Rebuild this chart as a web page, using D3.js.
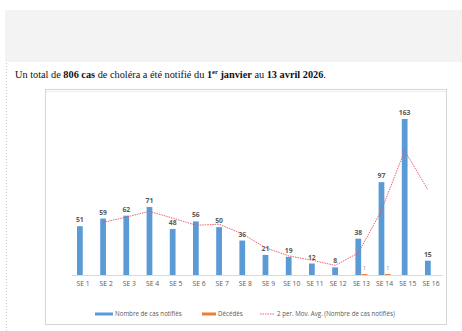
<!DOCTYPE html>
<html>
<head>
<meta charset="utf-8">
<script src="https://cdn.jsdelivr.net/npm/d3@7/dist/d3.min.js"></script>
<style>
  html, body { margin: 0; padding: 0; background: #fff; }
  svg { display: block; }
</style>
</head>
<body>
<div id="chart"></div>
<script>
// données hebdomadaires
const semaines = ["SE 1","SE 2","SE 3","SE 4","SE 5","SE 6","SE 7","SE 8","SE 9","SE 10","SE 11","SE 12","SE 13","SE 14","SE 15","SE 16"];
const casNotifies = [51, 59, 62, 71, 48, 56, 50, 36, 21, 19, 12, 8, 38, 97, 163, 15];
const deces = [0, 0, 0, 0, 0, 0, 0, 0, 0, 0, 0, 0, 1, 1, 0, 0];
const series = ["Nombre de cas notifiés", "Décédés"];
const legendeMoyenne = "2 per. Mov. Avg. (Nombre de cas notifiés)";

const W = 462, H = 331;
const svg = d3.select("#chart").append("svg").attr("width", W).attr("height", H);

// bandeau gris en haut
svg.append("rect").attr("x", 5).attr("y", 10).attr("width", W - 5).attr("height", 52).attr("fill", "#f3f3f3");

// bordure pointillée à gauche
svg.append("line").attr("x1", 6.5).attr("x2", 6.5).attr("y1", 63).attr("y2", H)
  .attr("stroke", "#c8c8c8").attr("stroke-dasharray", "1,2");

// phrase d'introduction
const intro = svg.append("text").attr("x", 15).attr("y", 77.5)
  .attr("font-family", "'Liberation Serif', 'DejaVu Serif', serif")
  .attr("font-size", 10.3).attr("fill", "#111");
intro.append("tspan").text("Un total de ");
intro.append("tspan").attr("font-weight", "bold").text("806 cas");
intro.append("tspan").text(" de choléra a été notifié du ");
intro.append("tspan").attr("font-weight", "bold").text("1");
intro.append("tspan").attr("font-weight", "bold").attr("font-size", 6.5).attr("dy", -3.5).text("er");
intro.append("tspan").attr("font-weight", "bold").attr("dy", 3.5).text(" janvier");
intro.append("tspan").text(" au ");
intro.append("tspan").attr("font-weight", "bold").text("13 avril 2026");
intro.append("tspan").text(".");

// cadre du graphique
svg.append("rect").attr("x", 45.5).attr("y", 89.5).attr("width", 401).attr("height", 235)
  .attr("fill", "#fff").attr("stroke", "#d6d6d6");
svg.append("line").attr("x1", 46).attr("x2", 446).attr("y1", 91.5).attr("y2", 91.5)
  .attr("stroke", "#eeeeee");

const x = d3.scaleBand().domain(semaines).range([71.4, 442.6]);
const x1 = d3.scaleBand().domain(series)
  .range([x.bandwidth() / 2 - 6, x.bandwidth() / 2 + 6]).paddingInner(0.08);
const y = d3.scaleLinear().domain([0, 180]).range([275, 275 - 180 * 0.957]);

const couleurs = { "Nombre de cas notifiés": "#5b9bd5", "Décédés": "#ed7d31" };
const font = "'Open Sans', 'Liberation Sans', sans-serif";

// axe horizontal
const xAxis = svg.append("g").attr("transform", "translate(0,275)")
  .call(d3.axisBottom(x).tickSize(0).tickPadding(6));
xAxis.select(".domain").attr("stroke", "#d9d9d9");
xAxis.selectAll("text").attr("font-family", font).attr("font-size", 6.8).attr("fill", "#595959");

// barres des cas
svg.append("g").selectAll("rect").data(casNotifies).join("rect")
  .attr("x", (d, i) => x(semaines[i]) + x1(series[0]))
  .attr("y", d => y(d))
  .attr("width", x1.bandwidth())
  .attr("height", d => y(0) - y(d))
  .attr("fill", couleurs[series[0]]);

// barres des décès
svg.append("g").selectAll("rect").data(deces).join("rect")
  .attr("x", (d, i) => x(semaines[i]) + x1(series[1]))
  .attr("y", d => y(d))
  .attr("width", x1.bandwidth())
  .attr("height", d => y(0) - y(d))
  .attr("fill", couleurs[series[1]]);

// étiquettes des valeurs
svg.append("g").selectAll("text").data(casNotifies).join("text")
  .attr("x", (d, i) => x(semaines[i]) + x1(series[0]) + x1.bandwidth() / 2)
  .attr("y", d => y(d) - 4)
  .attr("text-anchor", "middle")
  .attr("font-family", font).attr("font-size", 6.8).attr("font-weight", "bold")
  .attr("fill", "#595959")
  .text(d => d);

svg.append("g").selectAll("text").data(deces.map((d, i) => ({ d, i })).filter(o => o.d > 0)).join("text")
  .attr("x", o => x(semaines[o.i]) + x1(series[1]) + x1.bandwidth() / 2)
  .attr("y", o => y(o.d) - 4)
  .attr("text-anchor", "middle")
  .attr("font-family", font).attr("font-size", 5.5)
  .attr("fill", "#8c8c8c")
  .text(o => o.d);

// moyenne mobile sur 2 périodes
const moyenne = casNotifies.map((v, i) => i === 0 ? null : (casNotifies[i - 1] + v) / 2);
const ligne = d3.line()
  .defined(d => d !== null)
  .x((d, i) => x(semaines[i]) + x1(series[0]) + x1.bandwidth() / 2)
  .y(d => y(d));
svg.append("path").datum(moyenne)
  .attr("d", ligne)
  .attr("fill", "none")
  .attr("stroke", "#e8505b")
  .attr("stroke-width", 0.9)
  .attr("stroke-dasharray", "1.5,1");

// légende
const leg = svg.append("g").attr("font-family", font).attr("font-size", 6.2).attr("fill", "#595959");
leg.append("rect").attr("x", 95).attr("y", 312.5).attr("width", 18).attr("height", 3).attr("fill", couleurs[series[0]]);
leg.append("text").attr("x", 115).attr("y", 316.3).text(series[0]);
leg.append("rect").attr("x", 202).attr("y", 312.5).attr("width", 14).attr("height", 3).attr("fill", couleurs[series[1]]);
leg.append("text").attr("x", 218).attr("y", 316.3).text(series[1]);
leg.append("line").attr("x1", 260).attr("x2", 274).attr("y1", 314).attr("y2", 314)
  .attr("stroke", "#e8505b").attr("stroke-width", 0.9).attr("stroke-dasharray", "1.5,1");
leg.append("text").attr("x", 277).attr("y", 316.3).text(legendeMoyenne);
</script>
</body>
</html>
